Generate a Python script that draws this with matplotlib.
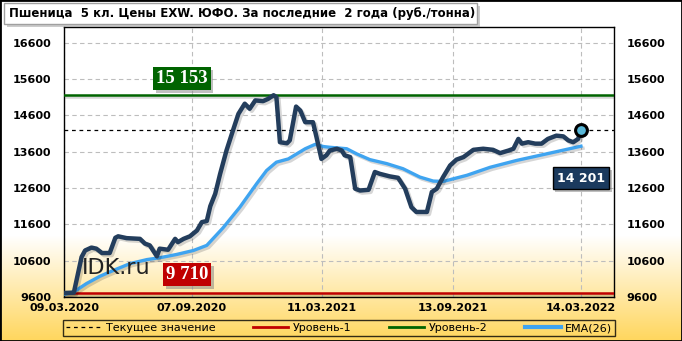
import matplotlib
matplotlib.use('Agg')
import matplotlib.pyplot as plt
import matplotlib.dates as mdates
import matplotlib.patheffects as pe
from matplotlib import font_manager
from matplotlib.patches import Rectangle
import numpy as np
import pandas as pd

start = pd.Timestamp('2020-03-09')

# price, days after 09.03.2020
price_days = [0, 14, 25, 30, 39, 46, 54, 65, 73, 77, 89, 108, 115, 122, 132, 136, 148,
              158, 162, 170, 179, 189, 196, 203, 208, 215, 222, 231, 241, 248, 257, 264,
              272, 283, 290, 298, 302, 307, 317, 321, 330, 336, 343, 354, 359, 366, 373,
              378, 388, 395, 399, 407, 414, 421, 433, 442, 449, 463, 475, 485, 494, 501,
              516, 523, 530, 539, 549, 558, 568, 582, 596, 610, 620, 632, 639, 646, 651,
              660, 670, 679, 688, 700, 710, 717, 724, 731, 735]
price_vals = [9710, 9720, 10700, 10880, 10960, 10930, 10810, 10810, 11230, 11270, 11220,
              11200, 11070, 11020, 10720, 10930, 10900, 11200, 11110, 11200, 11270, 11430,
              11660, 11690, 12100, 12440, 12990, 13630, 14230, 14640, 14920, 14780, 15010,
              14990, 15050, 15153, 15100, 13860, 13830, 13910, 14840, 14730, 14410, 14410,
              14000, 13400, 13500, 13630, 13680, 13630, 13500, 13450, 12580, 12530, 12550,
              13040, 12990, 12920, 12880, 12580, 12070, 11940, 11940, 12490, 12580, 12900,
              13220, 13380, 13450, 13650, 13680, 13650, 13560, 13630, 13680, 13950, 13820,
              13860, 13820, 13820, 13950, 14040, 14020, 13910, 13860, 13950, 14201]

ema_days = [0, 14, 32, 51, 70, 94, 118, 136, 160, 184, 203, 226, 250, 274, 288, 302, 319,
            331, 343, 357, 369, 378, 402, 416, 435, 459, 482, 506, 525, 539, 563, 573, 606,
            644, 691, 735]
ema_vals = [9670, 9740, 9970, 10170, 10330, 10520, 10630, 10680, 10770, 10880, 11020,
            11500, 12070, 12720, 13080, 13310, 13400, 13540, 13680, 13800, 13740, 13720,
            13680, 13540, 13380, 13270, 13130, 12900, 12790, 12780, 12900, 12950, 13170,
            13360, 13560, 13750]

level1 = 9710
level2 = 15153
current = 14201
tick_dates = ['09.03.2020', '07.09.2020', '11.03.2021', '13.09.2021', '14.03.2022']
y_ticks = [9600, 10600, 11600, 12600, 13600, 14600, 15600, 16600]
title = 'Пшеница  5 кл. Цены EXW. ЮФО. За последние  2 года (руб./тонна)'

price_x = start + pd.to_timedelta(price_days, unit='D')
ema_x = start + pd.to_timedelta(ema_days, unit='D')
ticks_x = pd.to_datetime(tick_dates, format='%d.%m.%Y')

W, H = 682, 341
fig = plt.figure(figsize=(W / 100, H / 100), dpi=100)

# background: white fading into yellow at the bottom
bg = fig.add_axes([0, 0, 1, 1], zorder=-10)
bg.axis('off')
rows = np.arange(H)
t = np.clip((rows - 235) / (H - 235), 0, 1)[:, None]
top_c = np.array([1.0, 1.0, 1.0])
bot_c = np.array([255, 214, 92]) / 255
grad = (top_c * (1 - t) + bot_c * t)[:, None, :]
grad = np.repeat(grad, 4, axis=1)
bg.imshow(grad, aspect='auto', extent=[0, 1, 0, 1])
bg.set_xlim(0, 1)
bg.set_ylim(0, 1)

ax = fig.add_axes([64 / W, 1 - 297 / H, 550 / W, 270 / H])
ax.patch.set_alpha(0)

shadow = [pe.SimpleLineShadow(offset=(1.5, -1.5), shadow_color='k', alpha=0.16), pe.Normal()]

ax.axhline(current, color='black', lw=0.9, ls=(0, (3, 3)), zorder=3)
ax.axhline(level1, color='#c00000', lw=1.8, zorder=3, path_effects=shadow)
ax.axhline(level2, color='#006400', lw=1.8, zorder=3, path_effects=shadow)
ax.plot(ema_x, ema_vals, color='#3fa4f0', lw=2.4, zorder=4,
        solid_joinstyle='round', path_effects=shadow)
ax.plot(price_x, price_vals, color='#233d5c', lw=3.2, zorder=5,
        solid_joinstyle='round', solid_capstyle='round', path_effects=shadow)
ax.plot(price_x[-1:], price_vals[-1:], 'o', ms=8.5, mfc='#5ab8d8', mec='black',
        mew=2.2, zorder=6)

ax.set_xlim(start, start + pd.Timedelta(days=782))
ax.set_ylim(9600, 17030)
ax.set_xticks(ticks_x)
ax.set_xticklabels(tick_dates)
ax.set_yticks(y_ticks)
ax.set_yticklabels([str(v) for v in y_ticks])
ax.grid(True, color='#bdbdbd', ls=(0, (4, 3)), lw=0.8)
ax.set_axisbelow(True)
ax.tick_params(axis='both', length=0, labelsize=8)
ax.tick_params(axis='y', pad=9, labelright=True)
ax.tick_params(axis='x', pad=4)
for lab in ax.get_xticklabels() + ax.get_yticklabels():
    lab.set_fontweight('bold')
for tk in ax.yaxis.get_major_ticks():
    tk.label2.set_fontweight('bold')
for sp in ax.spines.values():
    sp.set_color('black')
    sp.set_linewidth(1.0)

box_shadow = [pe.withSimplePatchShadow(offset=(2, -2), shadow_rgbFace='gray', alpha=0.5)]
t1 = ax.text(0.2145, 0.809, '15 153', transform=ax.transAxes, ha='center', va='center',
             color='white', fontsize=13.5, fontweight='bold', family='Liberation Serif',
             bbox=dict(boxstyle='square,pad=0.15', fc='#006400', ec='none'), zorder=7)
t2 = ax.text(0.2245, 0.0833, '9 710', transform=ax.transAxes, ha='center', va='center',
             color='white', fontsize=13.5, fontweight='bold', family='Liberation Serif',
             bbox=dict(boxstyle='square,pad=0.15', fc='#c00000', ec='none'), zorder=7)
t3 = ax.text(0.94, 0.4407, '14 201', transform=ax.transAxes, ha='center', va='center',
             color='white', fontsize=9, fontweight='bold',
             bbox=dict(boxstyle='square,pad=0.35', fc='#1b3a5e', ec='black', lw=1), zorder=7)
for tt in (t1, t2, t3):
    tt.get_bbox_patch().set_path_effects(box_shadow)
ax.text(0.0955, 0.109, 'IDK.ru', transform=ax.transAxes, ha='center', va='center',
        color='#222222', fontsize=16, zorder=7)

# title box
names = {f.name for f in font_manager.fontManager.ttflist}
if 'Liberation Sans Narrow' in names:
    tfont, tsize = 'Liberation Sans Narrow', 11
else:
    tfont, tsize = 'DejaVu Sans', 8.5
fig.patches.append(Rectangle((7 / W, 1 - 27 / H), 473 / W, 21 / H, transform=fig.transFigure,
                             fc='#9a9a9a', ec='none', alpha=0.5, zorder=1))
fig.patches.append(Rectangle((4 / W, 1 - 24 / H), 473 / W, 21 / H, transform=fig.transFigure,
                             fc='white', ec='#a0a0a0', lw=1, zorder=2))
fig.text(9 / W, 1 - 13.5 / H, title, ha='left', va='center', fontsize=tsize,
         fontweight='bold', family=tfont, color='black', zorder=3)

# legend
handles = [
    plt.Line2D([], [], color='black', lw=0.9, ls=(0, (3, 3))),
    plt.Line2D([], [], color='#c00000', lw=2),
    plt.Line2D([], [], color='#006400', lw=2),
    plt.Line2D([], [], color='#3fa4f0', lw=3),
]
labels = ['Текущее значение', 'Уровень-1', 'Уровень-2', 'EMA(26)']
leg = fig.legend(handles, labels, loc='lower left', ncol=4, mode='expand',
                 bbox_to_anchor=(63 / W, 5 / H, 552 / W, 18 / H), borderaxespad=0,
                 fontsize=8, handlelength=3.2, handletextpad=0.4, borderpad=0.25,
                 frameon=True, fancybox=False, facecolor='none', edgecolor='black')
leg.get_frame().set_linewidth(1)

# outer frame
fig.patches.append(Rectangle((0, 0), 1, 1, transform=fig.transFigure, fill=False,
                             ec='black', lw=2, zorder=20))

fig.savefig('out.png', dpi=100)
